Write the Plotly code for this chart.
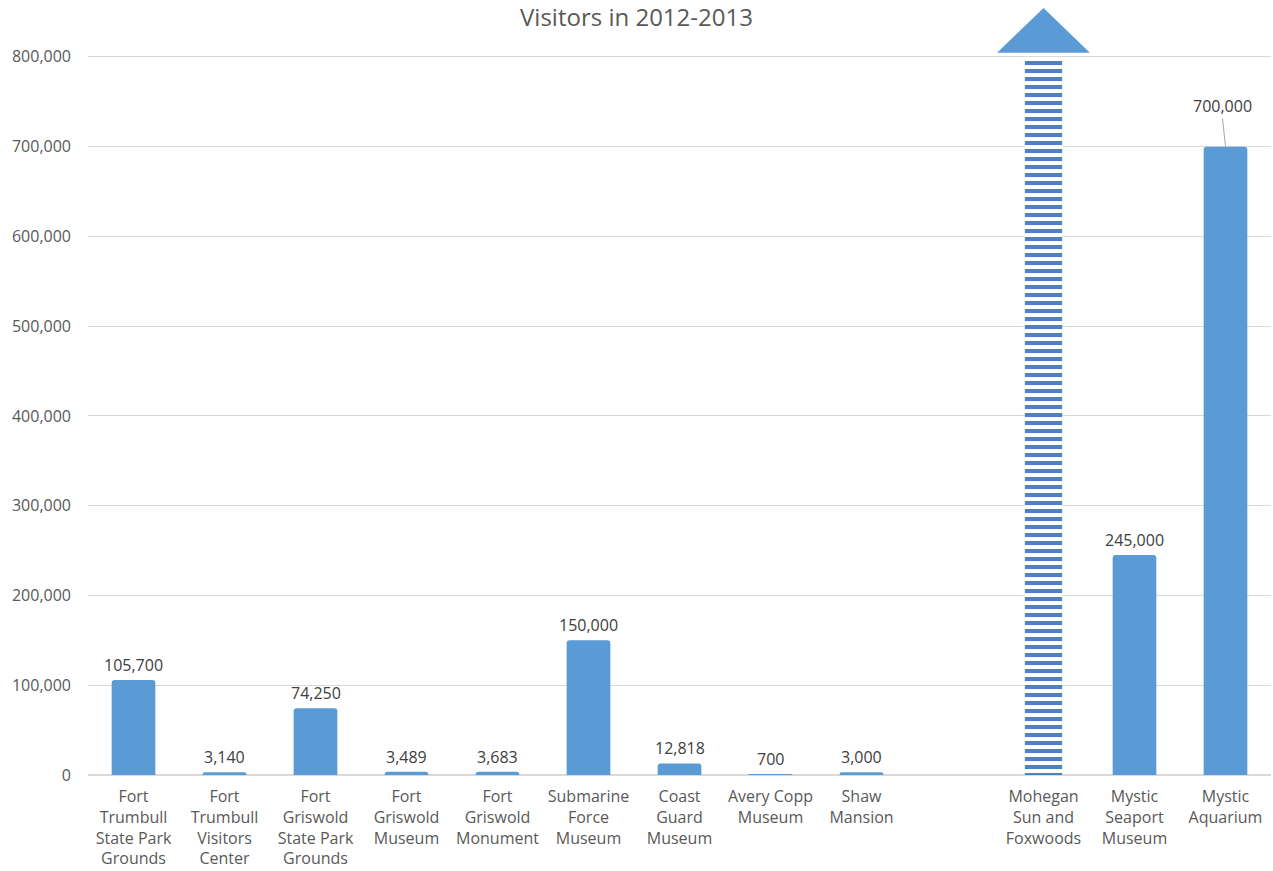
import plotly.graph_objects as go

categories = [
    "Fort<br>Trumbull<br>State Park<br>Grounds",
    "Fort<br>Trumbull<br>Visitors<br>Center",
    "Fort<br>Griswold<br>State Park<br>Grounds",
    "Fort<br>Griswold<br>Museum",
    "Fort<br>Griswold<br>Monument",
    "Submarine<br>Force<br>Museum",
    "Coast<br>Guard<br>Museum",
    "Avery Copp<br>Museum",
    "Shaw<br>Mansion",
    "",
    "Mohegan<br>Sun and<br>Foxwoods",
    "Mystic<br>Seaport<br>Museum",
    "Mystic<br>Aquarium",
]
visitors = [105700, 3140, 74250, 3489, 3683, 150000, 12818, 700, 3000, None, None, 245000, 700000]
# Mohegan Sun and Foxwoods: off the scale, drawn capped at the axis top with an arrow
capped_index = 10
capped_value = 800000
y_ticks = [0, 100000, 200000, 300000, 400000, 500000, 600000, 700000, 800000]

BLUE = "#5b9bd5"
STRIPE = "#4f81bd"
TEXT = "#595959"
LABEL = "#404040"
FONT = "Open Sans"

idx = list(range(len(categories)))
solid_x = [i for i, v in zip(idx, visitors) if v is not None]
solid_y = [v for v in visitors if v is not None]

fig = go.Figure()
fig.add_trace(go.Bar(
    x=solid_x, y=solid_y, width=0.48,
    marker=dict(color=BLUE, line=dict(width=0), cornerradius=3),
    hoverinfo="x+y", showlegend=False,
))
fig.add_trace(go.Bar(
    x=[capped_index], y=[capped_value - 4000], width=0.41,
    marker=dict(color=STRIPE, line=dict(width=0),
                pattern=dict(shape="-", fgcolor=STRIPE, bgcolor="white", fgopacity=1,
                             size=8, solidity=0.5, fillmode="replace")),
    showlegend=False,
))
# arrow head above the capped bar
head_base = capped_value + 4500
head_tip = capped_value + 54500
fig.add_trace(go.Scatter(
    x=[capped_index - 0.51, capped_index, capped_index + 0.51, capped_index - 0.51],
    y=[head_base, head_tip, head_base, head_base],
    mode="lines", fill="toself", fillcolor=BLUE, line=dict(width=0, color=BLUE),
    hoverinfo="skip", showlegend=False,
))

annotations = []
for i, v in zip(solid_x, solid_y):
    if v == 700000:
        annotations.append(dict(x=i, y=v, text=f"{v:,}", showarrow=True, arrowhead=0,
                                arrowwidth=1, arrowcolor="#a6a6a6", ax=-3, ay=-28,
                                yanchor="bottom", font=dict(family=FONT, size=16, color=LABEL),
                                standoff=0))
    else:
        annotations.append(dict(x=i, y=v, text=f"{v:,}", showarrow=False, yanchor="bottom",
                                yshift=2, font=dict(family=FONT, size=16, color=LABEL)))

fig.update_layout(
    width=1273, height=871,
    margin=dict(l=88, r=2, t=3, b=96),
    paper_bgcolor="white", plot_bgcolor="white",
    title=dict(text="Visitors in 2012-2013", x=0.5, xanchor="center", y=1 - 18 / 871,
               yanchor="middle", font=dict(family=FONT, size=24, color=TEXT)),
    font=dict(family=FONT, color=TEXT),
    bargap=0.52,
    annotations=annotations,
    xaxis=dict(tickmode="array", tickvals=idx, ticktext=categories, range=[-0.5, len(categories) - 0.5],
               showgrid=False, zeroline=False, showline=False, ticks="",
               ticklabelstandoff=10,
               tickfont=dict(family=FONT, size=16, color=TEXT), fixedrange=True),
    yaxis=dict(range=[0, 860000], tickmode="array", tickvals=y_ticks,
               ticktext=[f"{t:,}" for t in y_ticks], showgrid=True, gridcolor="#d9d9d9",
               gridwidth=1, zeroline=True, zerolinecolor="#d9d9d9", showline=False, ticks="",
               ticklabelstandoff=16, tickfont=dict(family=FONT, size=16, color=TEXT)),
)

fig.write_html("out.html", config={"displayModeBar": False},
               post_script="document.body.style.margin='0';")
